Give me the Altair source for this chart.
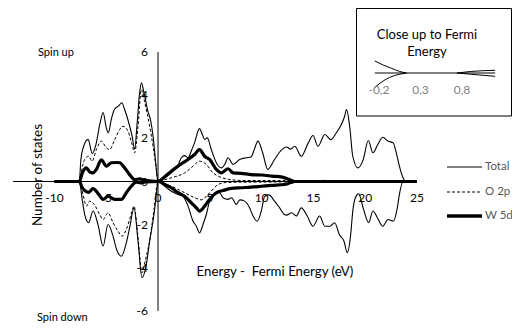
import altair as alt
import pandas as pd

# ---------------- data ----------------
TOTAL_UP_X = [-14, -7.6, -7.45, -7.2, -6.75, -6.35, -6.0, -5.6, -5.3, -5.0, -4.8, -4.5, -4.2, -3.8, -3.5, -3.2,
              -2.9, -2.5, -2.26, -2.0, -1.8, -1.6, -1.35, -1.0, -0.7, -0.48, -0.25, -0.05, 0.0,
              0.5, 1.0, 1.28, 1.6, 1.93, 2.25, 2.57, 2.9, 3.2, 3.53, 4.0, 4.3, 4.5, 4.76, 5.14, 5.63, 6.1, 6.45,
              6.76, 7.24, 7.88, 8.52, 9.0, 9.3, 9.65, 10.1, 10.6, 11.25, 11.9, 12.4, 12.8, 13.2, 13.83, 14.5,
              14.96, 15.44, 16.1, 16.7, 17.2, 17.7, 18.0, 18.2, 18.5, 18.8, 19.3, 19.8, 20.3, 20.75, 21.2, 21.7,
              22.2, 22.7, 23.0, 23.3, 23.65, 23.9, 25]
TOTAL_UP_Y = [0, 0, 1.0, 1.6, 1.95, 1.3, 1.7, 2.7, 3.2, 2.5, 2.25, 2.9, 3.35, 3.5, 3.65, 3.3,
              2.85, 2.1, 1.5, 2.8, 4.0, 4.57, 4.1, 3.3, 2.8, 2.1, 1.0, 0.1, 0.0,
              0.15, 0.3, 0.4, 0.55, 0.75, 1.1, 1.2, 1.1, 1.4, 1.8, 2.45, 2.15, 1.95, 2.02, 1.48, 0.87, 0.63, 0.8,
              1.1, 0.79, 1.02, 1.1, 1.15, 1.5, 1.87, 1.33, 0.56, 1.02, 1.45, 1.6, 1.5, 1.63, 1.17, 1.79,
              2.13, 1.63, 2.18, 1.94, 2.25, 2.64, 3.0, 3.33, 2.56, 1.17, 0.63, 1.0, 1.9, 1.33, 1.7, 2.05,
              1.87, 1.79, 1.33, 0.71, 0.17, 0.0, 0]

TOTAL_DN_X = [-14, -7.6, -7.3, -7.08, -6.7, -6.27, -5.8, -5.3, -4.83, -4.34, -4.0, -3.54, -3.06, -2.74, -2.32,
              -1.93, -1.55, -1.13, -0.81, -0.39, -0.16, 0.0,
              0.6, 1.28, 1.93, 2.41, 2.9, 3.38, 3.7, 4.0, 4.34, 4.66, 4.98, 5.46, 5.95, 6.27, 6.76, 7.1, 7.56,
              7.9, 8.36, 8.84, 9.17, 9.58, 9.97, 10.3, 10.7, 11.25, 11.74, 12.2, 12.4, 12.9, 13.35, 13.83,
              14.4, 14.96, 15.6, 16.1, 16.6, 17.05, 17.5, 17.95, 18.27, 18.6, 18.8, 19.05, 19.37, 19.8,
              20.33, 20.75, 21.2, 21.7, 22.2, 22.7, 23.1, 23.3, 23.65, 25]
TOTAL_DN_Y = [0, 0, -0.9, -1.53, -1.91, -1.37, -1.99, -2.99, -1.99, -2.53, -3.15, -3.46, -2.84, -2.14, -1.22,
              -2.76, -4.46, -3.84, -2.76, -1.53, -0.6, 0.0,
              -0.2, -0.45, -0.6, -0.68, -1.14, -1.84, -2.07, -2.38, -1.99, -1.53, -0.91, -0.6, -0.52, -0.75,
              -0.83, -0.75, -1.06, -0.85, -0.91, -1.22, -1.6, -1.84, -1.37, -0.68, -0.62, -0.91, -1.22,
              -1.53, -1.56, -1.45, -1.6, -1.22, -1.6, -2.07, -1.6, -2.07, -2.07, -1.91, -2.45, -2.76, -3.3,
              -2.45, -1.37, -0.75, -0.57, -1.22, -1.91, -1.37, -1.7, -2.07, -1.76, -1.84, -1.22, -0.6, 0.0, 0]

O2P_UP_X = [-10, -7.6, -7.3, -7.08, -6.7, -6.37, -5.95, -5.47, -4.99, -4.67, -4.18, -3.7, -3.38, -2.9, -2.5,
            -2.26, -1.93, -1.61, -1.3, -0.81, -0.48, -0.16, 0.0,
            0.6, 1.28, 2.57, 3.38, 4.0, 4.66, 5.3, 5.95, 6.8, 8.0, 12.0, 14.0, 16.0, 18.0, 25]
O2P_UP_Y = [0, 0, 0.7, 1.02, 1.17, 0.94, 1.48, 1.87, 1.56, 1.48, 1.94, 2.41, 2.56, 2.33, 1.71,
            1.33, 2.56, 4.26, 3.7, 2.56, 1.63, 0.56, 0.0,
            0.08, 0.17, 0.4, 0.71, 0.94, 0.79, 0.4, 0.22, 0.1, 0.05, 0.04, 0.02, 0.05, 0.02, 0]

O2P_DN_X = [-10, -7.6, -7.24, -6.92, -6.6, -6.1, -5.63, -5.3, -4.83, -4.34, -3.86, -3.47, -3.06, -2.64, -2.32,
            -1.93, -1.55, -1.2, -0.81, -0.39, 0.0,
            0.6, 1.28, 2.57, 3.53, 4.18, 4.98, 5.8, 6.5, 8.0, 25]
O2P_DN_Y = [0, 0, -0.6, -1.14, -0.91, -1.1, -1.53, -1.76, -1.45, -1.91, -2.3, -2.53, -2.22, -1.6, -1.14,
            -2.6, -4.23, -3.6, -2.76, -1.3, 0.0,
            -0.1, -0.22, -0.52, -0.75, -0.85, -0.52, -0.14, -0.05, -0.03, 0]

W5D_UP_X = [-10, -7.6, -7.3, -6.92, -6.6, -6.27, -5.95, -5.47, -4.99, -4.5, -4.0, -3.7, -3.22, -2.74, -2.26,
            -1.77, -1.3, 0.0,
            0.6, 1.28, 1.93, 2.41, 2.9, 3.53, 4.0, 4.5, 4.98, 5.63, 6.1, 6.76, 7.24, 8.0, 9.0, 10.0, 11.0,
            12.0, 12.6, 13.2, 25]
W5D_UP_Y = [0, 0, 0.4, 0.63, 0.45, 0.4, 0.56, 1.0, 0.71, 0.87, 0.88, 0.87, 0.63, 0.32, 0.09,
            0.12, 0.05, 0.0,
            0.2, 0.48, 0.71, 0.87, 1.02, 1.25, 1.48, 1.17, 1.02, 0.56, 0.4, 0.59, 0.4, 0.38, 0.32, 0.3, 0.25,
            0.2, 0.1, 0.0, 0]

W5D_DN_X = [-10, -7.6, -7.3, -7.08, -6.7, -6.27, -5.8, -5.3, -4.83, -4.18, -3.54, -3.06, -2.58, -2.1, -1.7,
            -1.2, 0.0,
            0.6, 1.28, 1.93, 2.57, 3.22, 3.7, 4.0, 4.5, 4.98, 5.63, 6.27, 7.08, 8.0, 9.0, 10.0, 11.0, 12.2,
            12.8, 13.2, 25]
W5D_DN_Y = [0, 0, -0.3, -0.42, -0.5, -0.33, -0.55, -0.83, -0.68, -0.83, -0.83, -0.52, -0.22, -0.03, -0.06,
            -0.02, 0.0,
            -0.12, -0.29, -0.52, -0.68, -0.99, -1.22, -1.37, -1.14, -0.83, -0.52, -0.42, -0.32, -0.29, -0.26,
            -0.22, -0.18, -0.14, -0.05, 0.0, 0]

X_MIN, X_MAX = -14, 25
Y_MIN, Y_MAX = -6, 6
X_TICKS = [-10, -5, 0, 5, 10, 15, 20, 25]
Y_TICKS = [-6, -4, -2, 0, 2, 4, 6]

SERIES = ["Total", "O 2p", "W 5d"]

# inset (close up to Fermi energy)
INSET_A_X = [-0.25, -0.15, -0.05, 0.05, 0.13]
INSET_A_Y = [1.2, 0.8, 0.47, 0.15, 0.0]
INSET_B_X = [-0.25, -0.15, -0.07, 0.05, 0.13]
INSET_B_Y = [-1.43, -0.8, -0.43, -0.12, 0.0]
INSET_C_X = [0.74, 0.9, 1.2]
INSET_C_Y = [0.0, 0.15, 0.27]
INSET_D_X = [0.74, 0.9, 1.2]
INSET_D_Y = [0.0, -0.12, -0.33]
INSET_XMIN, INSET_XMAX = -0.25, 1.2
INSET_TICKS = [-0.2, 0.3, 0.8]
INSET_LABELS = ["-0,2", "0,3", "0,8"]

FONT = "Lato"

# ---------------- scales ----------------
XS = alt.Scale(domain=[X_MIN, X_MAX], range=[5, 409], nice=False, zero=False)
YS = alt.Scale(domain=[Y_MIN, Y_MAX], range=[303, 44], nice=False, zero=False)
IXS = alt.Scale(domain=[INSET_XMIN, INSET_XMAX], range=[366.85, 487.2], nice=False, zero=False)
IYS = alt.Scale(domain=[-1.5, 1.5], range=[80, 50], nice=False, zero=False)


def series_df(xu, yu, xd, yd):
    return pd.DataFrame({"x": xu + xd, "y": yu + yd,
                         "part": ["up"] * len(xu) + ["down"] * len(xd)})


def series_layer(df, width, dash=None, xs=XS, ys=YS):
    kw = dict(interpolate="monotone", color="black", strokeWidth=width, strokeJoin="round")
    if dash:
        kw["strokeDash"] = dash
    return alt.Chart(df).mark_line(**kw).encode(
        x=alt.X("x:Q", scale=xs, axis=None),
        y=alt.Y("y:Q", scale=ys, axis=None),
        detail="part:N",
    )


total = series_layer(series_df(TOTAL_UP_X, TOTAL_UP_Y, TOTAL_DN_X, TOTAL_DN_Y), 1.1)
o2p = series_layer(series_df(O2P_UP_X, O2P_UP_Y, O2P_DN_X, O2P_DN_Y), 1.0, [3, 2])
w5d = series_layer(series_df(W5D_UP_X, W5D_UP_Y, W5D_DN_X, W5D_DN_Y), 3.2)

hline = alt.Chart(pd.DataFrame({"x": [X_MIN], "x2": [X_MAX], "y": [0]})).mark_rule(
    color="black", strokeWidth=1).encode(
    x=alt.X("x:Q", scale=XS, axis=None), x2="x2:Q", y=alt.Y("y:Q", scale=YS, axis=None))
vline = alt.Chart(pd.DataFrame({"x": [0], "y": [Y_MIN], "y2": [Y_MAX]})).mark_rule(
    color="black", strokeWidth=1).encode(
    x=alt.X("x:Q", scale=XS, axis=None), y=alt.Y("y:Q", scale=YS, axis=None), y2="y2:Q")

xlab = alt.Chart(pd.DataFrame({"x": X_TICKS, "y": [0] * len(X_TICKS),
                               "t": [str(v) for v in X_TICKS]})).mark_text(
    font=FONT, fontSize=12, color="black", dy=16, baseline="middle").encode(
    x=alt.X("x:Q", scale=XS, axis=None), y=alt.Y("y:Q", scale=YS, axis=None), text="t:N")
ylab = alt.Chart(pd.DataFrame({"x": [0] * len(Y_TICKS), "y": Y_TICKS,
                               "t": [str(v) for v in Y_TICKS]})).mark_text(
    font=FONT, fontSize=12, color="black", dx=-10, align="right", baseline="middle").encode(
    x=alt.X("x:Q", scale=XS, axis=None), y=alt.Y("y:Q", scale=YS, axis=None), text="t:N")

main = alt.layer(hline, vline, total, o2p, w5d, xlab, ylab)

# ---------------- inset ----------------
one = pd.DataFrame({"a": [0]})
inset_box = alt.Chart(one).mark_rect(fill="white", stroke="black", strokeWidth=1).encode(
    x=alt.value(348.5), x2=alt.value(503.5), y=alt.value(0.5), y2=alt.value(108))
inset_axis = alt.Chart(pd.DataFrame({"x": [INSET_XMIN], "x2": [INSET_XMAX], "y": [0]})).mark_rule(
    color="black", strokeWidth=1).encode(
    x=alt.X("x:Q", scale=IXS, axis=None), x2="x2:Q", y=alt.Y("y:Q", scale=IYS, axis=None))
inset_curves = alt.Chart(pd.DataFrame({
    "x": INSET_A_X + INSET_B_X + INSET_C_X + INSET_D_X,
    "y": INSET_A_Y + INSET_B_Y + INSET_C_Y + INSET_D_Y,
    "part": ["a"] * len(INSET_A_X) + ["b"] * len(INSET_B_X) + ["c"] * len(INSET_C_X) + ["d"] * len(INSET_D_X),
})).mark_line(interpolate="monotone", color="black", strokeWidth=1).encode(
    x=alt.X("x:Q", scale=IXS, axis=None), y=alt.Y("y:Q", scale=IYS, axis=None), detail="part:N")
inset_lab = alt.Chart(pd.DataFrame({"x": INSET_TICKS, "y": [0] * 3, "t": INSET_LABELS})).mark_text(
    font=FONT, fontSize=12, color="#7f7f7f", dy=17, baseline="middle").encode(
    x=alt.X("x:Q", scale=IXS, axis=None), y=alt.Y("y:Q", scale=IYS, axis=None), text="t:N")
inset_title = alt.Chart(one).mark_text(
    font=FONT, fontSize=13, color="black", align="center", baseline="middle",
    lineBreak="\n", lineHeight=17).encode(
    x=alt.value(419), y=alt.value(27), text=alt.value("Close up to Fermi\nEnergy"))

inset = alt.layer(inset_box, inset_axis, inset_curves, inset_lab)


# ---------------- annotations & legend ----------------
def label(text, x, y, size=11.5, color="black", align="left", angle=0):
    kw = dict(font=FONT, fontSize=size, color=color, align=align, baseline="middle")
    if angle:
        kw["angle"] = angle
    return alt.Chart(one).mark_text(**kw).encode(x=alt.value(x), y=alt.value(y), text=alt.value(text))


annots = [
    inset_title,
    label("Spin up", 30, 45, 11),
    label("Spin down", 29, 310, 11),
    label("Number of states", 30, 167, 13.5, align="center", angle=270),
    label("Energy -\u00a0 Fermi Energy (eV)", 267, 264, 13.3, align="center"),
]

legend_y = [159, 184, 208]
legend_w = [1.1, 1.0, 3.6]
legend_dash = [None, [3, 2], None]
for name, ly, lw, ld in zip(SERIES, legend_y, legend_w, legend_dash):
    kw = dict(color="black", strokeWidth=lw)
    if ld:
        kw["strokeDash"] = ld
    annots.append(alt.Chart(one).mark_rule(**kw).encode(
        x=alt.value(439), x2=alt.value(474), y=alt.value(ly)))
    annots.append(label(name, 477, ly, 11.5, color="#595959"))

chart = alt.layer(main, inset, *annots).resolve_scale(x="independent", y="independent").properties(
    width=504, height=316, padding=0, autosize=alt.AutoSizeParams(type="none"),
).configure_view(strokeWidth=0)

chart.save("out.html", embed_options={"renderer": "svg", "actions": False})
